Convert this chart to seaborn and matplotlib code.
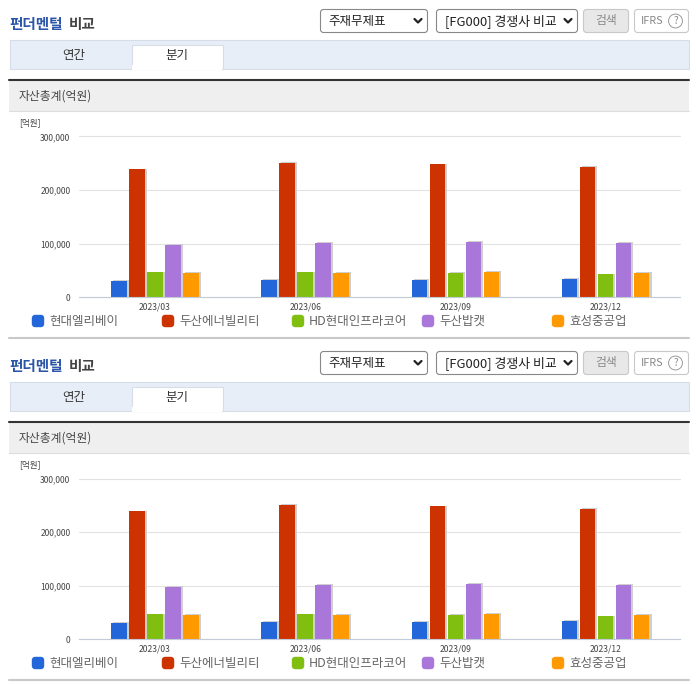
import matplotlib
matplotlib.use("Agg")
import matplotlib.pyplot as plt
import matplotlib.patheffects as pe
from matplotlib.patches import FancyBboxPatch, Rectangle
import pandas as pd
import seaborn as sns

periods = ["2023/03", "2023/06", "2023/09", "2023/12"]
companies = ["현대엘리베이", "두산에너빌리티", "HD현대인프라코어", "두산밥캣", "효성중공업"]
colors = ["#2266d9", "#cc3300", "#80bf10", "#a877d9", "#ff9900"]

hyundai_elev = [31000, 33000, 33000, 34800]
doosan_enerb = [239000, 251000, 248000, 243500]
hd_infracore = [47300, 47300, 46000, 43500]
doosan_bobcat = [98300, 102000, 104000, 102000]
hyosung_heavy = [46000, 46000, 48000, 46000]

y_ticks = [0, 100000, 200000, 300000]
y_tick_labels = ["0", "100,000", "200,000", "300,000"]

W, H = 696, 684
PANEL_OFFSET = 342

sns.set_theme(style="white")
plt.rcParams["font.family"] = ["Noto Sans CJK KR", "DejaVu Sans"]

rows = []
for name, vals in zip(companies, [hyundai_elev, doosan_enerb, hd_infracore, doosan_bobcat, hyosung_heavy]):
    for p, v in zip(periods, vals):
        rows.append({"period": p, "company": name, "value": v})
df = pd.DataFrame(rows)

fig = plt.figure(figsize=(W / 100, H / 100), dpi=100, facecolor="white")

# page furniture in pixel coords
bg = fig.add_axes([0, 0, 1, 1], zorder=0)
bg.set_xlim(0, W)
bg.set_ylim(H, 0)
bg.axis("off")


def box(x0, y0, x1, y1, fc="white", ec="#a8a8a8", lw=0.8, rounded=True):
    if rounded:
        p = FancyBboxPatch((x0 + 2, y0 + 2), x1 - x0 - 4, y1 - y0 - 4,
                           boxstyle="round,pad=2,rounding_size=3", fc=fc, ec=ec, lw=lw)
    else:
        p = Rectangle((x0, y0), x1 - x0, y1 - y0, fc=fc, ec=ec, lw=lw)
    bg.add_patch(p)


def chevron(x, y):
    bg.plot([x - 3.5, x, x + 3.5], [y - 2, y + 1.5, y - 2], color="#222222", lw=1.6)


def draw_panel(dy):
    # header row
    bg.text(9, 24 + dy, "펀더멘털", color="#2b55a8", fontsize=10.5, fontweight="bold", va="center")
    bg.text(69, 24 + dy, "비교", color="#444444", fontsize=10.5, fontweight="bold", va="center")

    box(320.5, 9.5 + dy, 427.5, 32.5 + dy, ec="#888888")
    bg.text(328, 21 + dy, "주재무제표", color="#222222", fontsize=9, va="center")
    chevron(418, 21 + dy)
    box(436.5, 9.5 + dy, 577.5, 32.5 + dy, ec="#888888")
    bg.text(445, 21 + dy, "[FG000] 경쟁사 비교", color="#222222", fontsize=9.3, va="center")
    chevron(568, 21 + dy)
    box(583.5, 9.5 + dy, 628.5, 32.5 + dy, fc="#e8e8e8", ec="#c8c8c8")
    bg.text(606, 20.5 + dy, "검색", color="#8a8a8a", fontsize=8.5, ha="center", va="center")
    box(634.5, 9.5 + dy, 688.5, 32.5 + dy, ec="#c8c8c8")
    bg.text(641, 20.5 + dy, "IFRS", color="#888888", fontsize=7.8, va="center")
    bg.text(675.5, 21 + dy, "?", color="#888888", fontsize=7, ha="center", va="center",
            bbox=dict(boxstyle="circle,pad=0.2", fc="white", ec="#999999", lw=0.7))

    # tabs
    box(9.5, 39.5 + dy, 688.5, 68.5 + dy, fc="#e7eef8", ec="#d6dde8", rounded=False)
    box(131.5, 44.5 + dy, 222.5, 68.5 + dy, fc="white", ec="#d6dde8", rounded=False)
    bg.add_patch(Rectangle((132, 65 + dy), 90, 5, fc="white", ec="none"))
    bg.text(74, 56 + dy, "연간", color="#333333", fontsize=9, ha="center", va="center")
    bg.text(177, 56 + dy, "분기", color="#333333", fontsize=9, ha="center", va="center")

    # chart title band
    bg.add_patch(Rectangle((9, 81 + dy), 680, 30, fc="#efefef", ec="none"))
    bg.plot([9, 689], [111 + dy, 111 + dy], color="#dddddd", lw=0.8)
    bg.plot([9, 689], [80 + dy, 80 + dy], color="#333333", lw=1.5)
    bg.text(19, 96 + dy, "자산총계(억원)", color="#444444", fontsize=8.5, va="center")
    bg.text(19, 123 + dy, "[억원]", color="#444444", fontsize=6.2, va="center")

    # legend
    for i, (name, c) in enumerate(zip(companies, colors)):
        x = 32 + i * 130
        box(x, 315 + dy, x + 12, 327 + dy, fc=c, ec=c, lw=0.3)
        bg.text(x + 17, 321 + dy, name, color="#666666", fontsize=9, va="center")

    # bottom rule
    bg.plot([9, 689], [338 + dy, 338 + dy], color="#c8c8c8", lw=1.5)

    # bar chart
    left, right = 78.7, 679.7
    top, bottom = 136.5 + dy, 297.3 + dy
    ax = fig.add_axes([left / W, 1 - bottom / H, (right - left) / W, (bottom - top) / H], zorder=1)
    ax.patch.set_alpha(0)
    sns.barplot(data=df, x="period", y="value", hue="company", hue_order=companies,
                palette=colors, saturation=1, width=0.6, gap=0.14, linewidth=0, legend=False, ax=ax)
    for bar in ax.patches:
        bar.set_path_effects([pe.SimplePatchShadow(offset=(1.5, 0.3), shadow_rgbFace="#cfcfcf", alpha=1), pe.Normal()])
    ax.set_xlim(-0.507, 3.493)
    ax.set_ylim(0, 300000)
    ax.set_xlabel("")
    ax.set_ylabel("")
    ax.set_yticks(y_ticks)
    ax.set_yticklabels(y_tick_labels)
    ax.set_xticks(range(len(periods)))
    ax.set_xticklabels(periods)
    ax.set_xticks([-0.507 + k for k in range(5)], minor=True)
    ax.tick_params(axis="x", which="major", length=0, pad=4, labelsize=6.2, labelcolor="#444444")
    ax.tick_params(axis="x", which="minor", length=3, width=0.8, color="#c3cad8")
    ax.tick_params(axis="y", length=0, pad=6, labelsize=6.1, labelcolor="#444444")
    ax.grid(axis="y", color="#e2e2e2", lw=0.8, clip_on=False)
    ax.set_axisbelow(True)
    for s in ["top", "right", "left"]:
        ax.spines[s].set_visible(False)
    ax.spines["bottom"].set_color("#c3cad8")
    ax.spines["bottom"].set_linewidth(0.8)


draw_panel(0)
draw_panel(PANEL_OFFSET)

fig.savefig("out.png", dpi=100)
